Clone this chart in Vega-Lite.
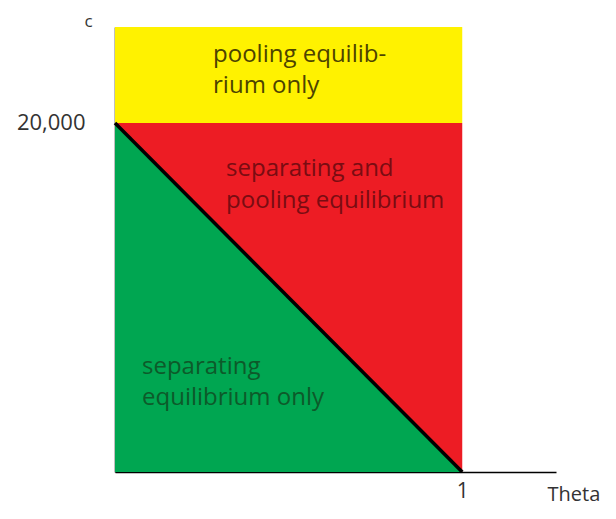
{
  "$schema": "https://vega.github.io/schema/vega-lite/v6.json",
  "width": 441,
  "height": 445,
  "autosize": "none",
  "padding": {"left": 115, "top": 27, "right": 60, "bottom": 47},
  "background": "white",
  "config": {"view": {"stroke": null}, "font": "Open Sans"},
  "resolve": {"scale": {"color": "independent"}},
  "datasets": {
    "regions": [
      {"region": "pooling only", "t0": 0, "t1": 1, "c0": 20000, "c1": 25500},
      {"region": "both", "t0": 0, "t1": 1, "c0": 0, "c1": 20000}
    ],
    "boundary": [
      {"theta": 0, "c": 20000},
      {"theta": 1, "c": 0}
    ],
    "labels": [
      {"theta": 0.2824, "c": 23895, "text": "pooling equilib-", "group": "yellow"},
      {"theta": 0.2824, "c": 22118, "text": "rium only", "group": "yellow"},
      {"theta": 0.320, "c": 17362, "text": "separating and", "group": "red"},
      {"theta": 0.320, "c": 15528, "text": "pooling equilibrium", "group": "red"},
      {"theta": 0.0778, "c": 6017, "text": "separating", "group": "green"},
      {"theta": 0.0778, "c": 4240, "text": "equilibrium only", "group": "green"}
    ]
  },
  "layer": [
    {
      "data": {"name": "regions"},
      "mark": {"type": "rect"},
      "encoding": {
        "x": {"field": "t0", "type": "quantitative", "scale": {"domain": [0, 1.27], "nice": false, "zero": false},
          "axis": {"values": [1], "labelExpr": "format(datum.value, 'd')", "title": "Theta", "ticks": false, "grid": false, "labelFontSize": 21, "labelColor": "#333333", "labelPadding": 8, "labelFont": "Open Sans",
            "domainColor": "#000000", "domainWidth": 1.5, "titleFontSize": 20, "titleFontWeight": "normal", "titleColor": "#333333", "titleX": 432, "titleY": 22, "titleAlign": "left", "titleBaseline": "middle", "titleFont": "Open Sans"}},
        "x2": {"field": "t1"},
        "y": {"field": "c0", "type": "quantitative", "scale": {"domain": [0, 25500], "nice": false},
          "axis": {"values": [20000], "labelExpr": "format(datum.value, ',')", "title": "c", "ticks": false, "grid": false, "labelFontSize": 22, "labelColor": "#333333", "labelPadding": 30, "labelFont": "Open Sans",
            "domainColor": "#000000", "domainWidth": 1.5, "titleAngle": 0, "titleFontSize": 17, "titleFontWeight": "normal", "titleColor": "#333333", "titleX": -27, "titleY": -6, "titleAlign": "center", "titleBaseline": "middle", "titleFont": "Open Sans"}},
        "y2": {"field": "c1"},
        "color": {"field": "region", "type": "nominal", "scale": {"domain": ["pooling only", "both"], "range": ["#fff200", "#ed1c24"]}, "legend": null}
      }
    },
    {
      "data": {"name": "boundary"},
      "mark": {"type": "area", "color": "#00a651"},
      "encoding": {
        "x": {"field": "theta", "type": "quantitative"},
        "y": {"field": "c", "type": "quantitative"}
      }
    },
    {
      "data": {"name": "boundary"},
      "mark": {"type": "line", "color": "#000000", "strokeWidth": 3.5},
      "encoding": {
        "x": {"field": "theta", "type": "quantitative"},
        "y": {"field": "c", "type": "quantitative"}
      }
    },
    {
      "data": {"name": "labels"},
      "mark": {"type": "text", "align": "left", "baseline": "middle", "fontSize": 24, "font": "Open Sans"},
      "encoding": {
        "x": {"field": "theta", "type": "quantitative"},
        "y": {"field": "c", "type": "quantitative"},
        "text": {"field": "text"},
        "color": {"field": "group", "type": "nominal", "scale": {"domain": ["yellow", "red", "green"], "range": ["#4d4300", "#7a0c12", "#0d5a2a"]}, "legend": null}
      }
    }
  ]
}
